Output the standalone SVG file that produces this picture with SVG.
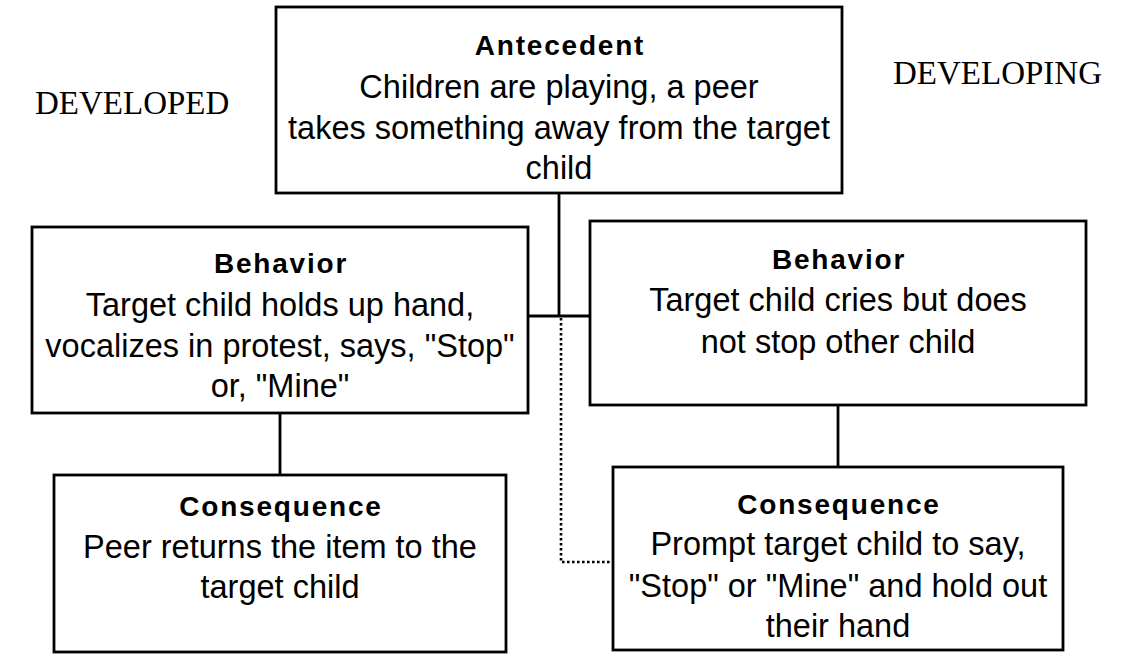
<svg xmlns="http://www.w3.org/2000/svg" width="1122" height="655" viewBox="0 0 1122 655">
<style>
.box{fill:#fff;stroke:#000;stroke-width:2.8}
.t{font-family:"Liberation Sans",Arial,sans-serif;font-size:32.5px;fill:#000;text-anchor:middle}
.h{font-family:"Liberation Sans",Arial,sans-serif;font-size:28px;font-weight:bold;letter-spacing:1.8px;fill:#000;text-anchor:middle}
.s{font-family:"Liberation Serif","Times New Roman",serif;font-size:33px;fill:#000}
.ln{stroke:#000;stroke-width:2.8;fill:none}
.dot{stroke:#000;stroke-width:2.6;fill:none;stroke-dasharray:2.6 2.4}
</style>
<rect width="1122" height="655" fill="#fff"/>
<g id="connectors">
<line class="ln" x1="559" y1="193" x2="559" y2="316"/>
<line class="ln" x1="528" y1="316" x2="590" y2="316"/>
<line class="ln" x1="280" y1="413" x2="280" y2="475"/>
<line class="ln" x1="838" y1="405" x2="838" y2="467"/>
<polyline class="dot" points="561,318 561,562 613,562"/>
</g>
<g id="label-developed"><text class="s" x="35" y="114">DEVELOPED</text></g>
<g id="label-developing"><text class="s" x="893" y="84">DEVELOPING</text></g>
<g id="antecedent">
<rect class="box" x="276" y="7" width="566" height="186"/>
<text class="h" x="560" y="55">Antecedent</text>
<text class="t" x="559" y="98">Children are playing, a peer</text>
<text class="t" x="559" y="139">takes something away from the target</text>
<text class="t" x="559" y="179">child</text>
</g>
<g id="behavior-developed">
<rect class="box" x="32" y="227" width="496" height="186"/>
<text class="h" x="281" y="273">Behavior</text>
<text class="t" x="280" y="316">Target child holds up hand,</text>
<text class="t" x="280" y="357">vocalizes in protest, says, "Stop"</text>
<text class="t" x="280" y="397">or, "Mine"</text>
</g>
<g id="behavior-developing">
<rect class="box" x="590" y="221" width="496" height="184"/>
<text class="h" x="839" y="269">Behavior</text>
<text class="t" x="838" y="311">Target child cries but does</text>
<text class="t" x="838" y="353">not stop other child</text>
</g>
<g id="consequence-developed">
<rect class="box" x="54" y="475" width="452" height="177"/>
<text class="h" x="281" y="516">Consequence</text>
<text class="t" x="280" y="558">Peer returns the item to the</text>
<text class="t" x="280" y="598">target child</text>
</g>
<g id="consequence-developing">
<rect class="box" x="613" y="467" width="450" height="183"/>
<text class="h" x="839" y="514">Consequence</text>
<text class="t" x="838" y="555">Prompt target child to say,</text>
<text class="t" x="838" y="597">"Stop" or "Mine" and hold out</text>
<text class="t" x="838" y="637">their hand</text>
</g>
</svg>
